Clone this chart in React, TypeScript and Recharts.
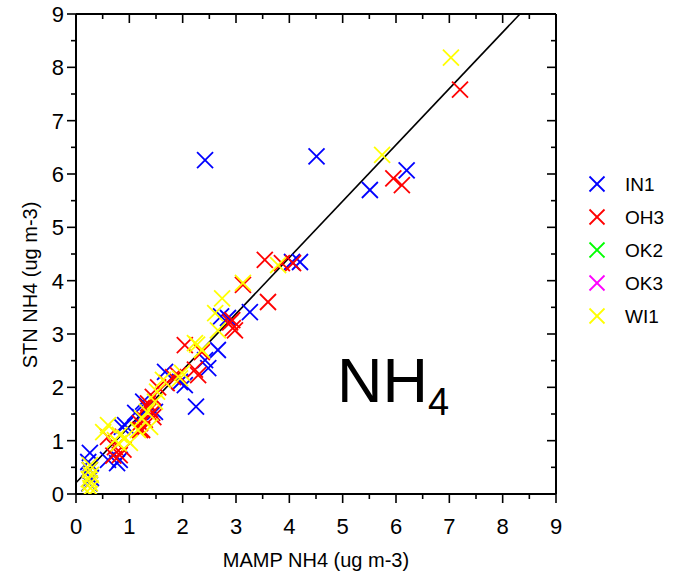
import React from 'react';
import { ScatterChart, Scatter, XAxis, YAxis, ReferenceLine } from 'recharts';

type Pt = { x: number; y: number };

const seriesNames = ['IN1', 'OH3', 'OK2', 'OK3', 'WI1'];
const seriesColors = ['#0000FF', '#FF0000', '#00FF00', '#FF00FF', '#FFFF00'];

const IN1: Pt[] = [
  { x: 2.42, y: 6.26 }, { x: 4.51, y: 6.33 }, { x: 5.51, y: 5.70 }, { x: 6.2, y: 6.07 },
  { x: 4.05, y: 4.35 }, { x: 4.2, y: 4.35 }, { x: 3.26, y: 3.41 }, { x: 2.72, y: 3.33 },
  { x: 2.85, y: 3.3 }, { x: 2.66, y: 2.7 }, { x: 2.42, y: 2.51 }, { x: 2.48, y: 2.36 },
  { x: 2.25, y: 1.64 }, { x: 2.04, y: 2.04 }, { x: 1.95, y: 2.1 }, { x: 1.67, y: 2.29 },
  { x: 1.26, y: 1.73 }, { x: 1.35, y: 1.61 }, { x: 1.48, y: 1.54 }, { x: 1.2, y: 1.44 },
  { x: 1.11, y: 1.52 }, { x: 0.92, y: 1.29 }, { x: 0.86, y: 1.26 }, { x: 0.82, y: 0.64 },
  { x: 0.77, y: 0.58 }, { x: 0.6, y: 0.64 }, { x: 0.26, y: 0.77 }, { x: 0.23, y: 0.6 },
  { x: 0.26, y: 0.45 }, { x: 0.28, y: 0.3 }, { x: 0.25, y: 0.2 },
];

const OH3: Pt[] = [
  { x: 7.2, y: 7.58 }, { x: 5.95, y: 5.92 }, { x: 6.11, y: 5.79 }, { x: 3.54, y: 4.39 },
  { x: 3.86, y: 4.33 }, { x: 4.07, y: 4.33 }, { x: 3.6, y: 3.6 }, { x: 3.13, y: 3.92 },
  { x: 2.93, y: 3.26 }, { x: 2.94, y: 3.11 }, { x: 2.98, y: 3.07 }, { x: 2.89, y: 3.22 },
  { x: 2.04, y: 2.79 }, { x: 2.36, y: 2.66 }, { x: 2.23, y: 2.33 }, { x: 2.29, y: 2.23 },
  { x: 1.91, y: 2.23 }, { x: 1.82, y: 2.19 }, { x: 1.7, y: 2.08 }, { x: 1.54, y: 2.0 },
  { x: 1.44, y: 1.82 }, { x: 1.33, y: 1.64 }, { x: 1.43, y: 1.52 }, { x: 1.2, y: 1.33 },
  { x: 1.2, y: 1.2 }, { x: 1.39, y: 1.58 }, { x: 1.29, y: 1.39 }, { x: 1.45, y: 1.44 },
  { x: 1.24, y: 1.2 }, { x: 1.35, y: 1.7 }, { x: 0.6, y: 1.07 }, { x: 0.73, y: 0.88 },
  { x: 0.82, y: 0.73 }, { x: 0.89, y: 0.83 }, { x: 0.7, y: 0.72 },
];

const OK2: Pt[] = [];
const OK3: Pt[] = [];

const WI1: Pt[] = [
  { x: 7.03, y: 8.18 }, { x: 5.74, y: 6.36 }, { x: 3.79, y: 4.29 }, { x: 3.13, y: 3.96 },
  { x: 2.74, y: 3.67 }, { x: 2.61, y: 3.39 }, { x: 2.66, y: 3.07 }, { x: 2.23, y: 2.83 },
  { x: 2.27, y: 2.8 }, { x: 2.36, y: 2.7 }, { x: 1.99, y: 2.27 }, { x: 1.95, y: 2.17 },
  { x: 1.63, y: 2.14 }, { x: 1.52, y: 1.92 }, { x: 1.48, y: 1.73 }, { x: 1.33, y: 1.54 },
  { x: 1.24, y: 1.42 }, { x: 1.39, y: 1.26 }, { x: 1.16, y: 1.2 }, { x: 0.6, y: 1.29 },
  { x: 0.51, y: 1.16 }, { x: 0.73, y: 1.01 }, { x: 0.82, y: 1.11 }, { x: 0.92, y: 1.05 },
  { x: 1.01, y: 0.96 }, { x: 0.8, y: 0.95 }, { x: 0.26, y: 0.54 }, { x: 0.26, y: 0.45 },
  { x: 0.28, y: 0.36 }, { x: 0.24, y: 0.28 }, { x: 0.26, y: 0.2 }, { x: 0.27, y: 0.11 },
  { x: 0.26, y: 0.0 },
];

const seriesData = [IN1, OH3, OK2, OK3, WI1];

const axisTicks = [0, 0.5, 1, 1.5, 2, 2.5, 3, 3.5, 4, 4.5, 5, 5.5, 6, 6.5, 7, 7.5, 8, 8.5, 9];
const axisDomain: [number, number] = [0, 9];
const frameData: Pt[] = [{ x: 0, y: 0 }, { x: 9, y: 9 }];

const fitIntercept = 0.21;
const fitSlope = 1.056;

const xTitle = 'MAMP NH4 (ug m-3)';
const yTitle = 'STN NH4 (ug m-3)';

const FONT = '"Liberation Sans", Arial, sans-serif';
const MAJOR = 9;
const MINOR = 5;

const isMajor = (v: number) => Number.isInteger(v);

const BottomTick = (props: any) => {
  const { x, y, payload } = props;
  const len = isMajor(payload.value) ? MAJOR : MINOR;
  return (
    <g>
      <line x1={x} x2={x} y1={y} y2={y + len} stroke="#000" strokeWidth={1.6} />
      {isMajor(payload.value) && (
        <text x={x} y={y + 40} textAnchor="middle" fontSize={22} fontFamily={FONT} fill="#000">
          {payload.value}
        </text>
      )}
    </g>
  );
};

const TopTick = (props: any) => {
  const { x, y, payload } = props;
  const len = isMajor(payload.value) ? MAJOR : MINOR;
  return <line x1={x} x2={x} y1={y} y2={y + len} stroke="#000" strokeWidth={1.6} />;
};

const LeftTick = (props: any) => {
  const { x, y, payload } = props;
  const len = isMajor(payload.value) ? MAJOR : MINOR;
  return (
    <g>
      <line x1={x - len} x2={x} y1={y} y2={y} stroke="#000" strokeWidth={1.6} />
      {isMajor(payload.value) && (
        <text x={x - 12} y={y + 8} textAnchor="end" fontSize={22} fontFamily={FONT} fill="#000">
          {payload.value}
        </text>
      )}
    </g>
  );
};

const RightTick = (props: any) => {
  const { x, y, payload } = props;
  const len = isMajor(payload.value) ? MAJOR : MINOR;
  return <line x1={x - len} x2={x} y1={y} y2={y} stroke="#000" strokeWidth={1.6} />;
};

const makeCross = (color: string) => (props: any) => {
  const { cx, cy } = props;
  const h = 8;
  return (
    <g>
      <line x1={cx - h} y1={cy - h} x2={cx + h} y2={cy + h} stroke={color} strokeWidth={1.8} />
      <line x1={cx - h} y1={cy + h} x2={cx + h} y2={cy - h} stroke={color} strokeWidth={1.8} />
    </g>
  );
};

const NoShape = () => <g />;

const XTitle = (props: any) => {
  const vb = props.viewBox || {};
  return (
    <text x={vb.x + vb.width / 2} y={vb.y + 73} textAnchor="middle" fontSize={20} fontFamily={FONT} fill="#000">
      {xTitle}
    </text>
  );
};

const YTitle = (props: any) => {
  const vb = props.viewBox || {};
  const cx = vb.x + 21;
  const cy = vb.y + vb.height / 2 + 31;
  return (
    <text
      x={cx}
      y={cy}
      transform={`rotate(-90, ${cx}, ${cy})`}
      textAnchor="middle"
      fontSize={20}
      fontFamily={FONT}
      fill="#000"
    >
      {yTitle}
    </text>
  );
};

const fitEnd = (axisDomain[1] - fitIntercept) / fitSlope;

export default function App() {
  return (
    <div style={{ position: 'absolute', left: 0, top: 0, width: 674, height: 571, background: '#fff' }}>
      <ScatterChart width={674} height={571} margin={{ top: 13, right: 117, bottom: 17, left: 16 }}>
        <XAxis
          xAxisId="b"
          type="number"
          dataKey="x"
          domain={axisDomain}
          ticks={axisTicks}
          interval={0}
          allowDataOverflow
          height={60}
          tickSize={0}
          tickMargin={0}
          tickLine={false}
          tick={<BottomTick />}
          axisLine={{ stroke: '#000', strokeWidth: 2 }}
          label={{ content: (p: any) => <XTitle {...p} /> }}
        />
        <XAxis
          xAxisId="t"
          orientation="top"
          type="number"
          dataKey="x"
          domain={axisDomain}
          ticks={axisTicks}
          interval={0}
          allowDataOverflow
          height={1}
          tickSize={0}
          tickMargin={0}
          tickLine={false}
          tick={<TopTick />}
          axisLine={{ stroke: '#000', strokeWidth: 2 }}
        />
        <YAxis
          yAxisId="l"
          type="number"
          dataKey="y"
          domain={axisDomain}
          ticks={axisTicks}
          interval={0}
          allowDataOverflow
          width={60}
          tickSize={0}
          tickMargin={0}
          tickLine={false}
          tick={<LeftTick />}
          axisLine={{ stroke: '#000', strokeWidth: 2 }}
          label={{ content: (p: any) => <YTitle {...p} /> }}
        />
        <YAxis
          yAxisId="r"
          orientation="right"
          type="number"
          dataKey="y"
          domain={axisDomain}
          ticks={axisTicks}
          interval={0}
          allowDataOverflow
          width={1}
          tickSize={0}
          tickMargin={0}
          tickLine={false}
          tick={<RightTick />}
          axisLine={{ stroke: '#000', strokeWidth: 2 }}
        />
        <Scatter
          name="frame"
          xAxisId="t"
          yAxisId="r"
          data={frameData}
          shape={<NoShape />}
          legendType="none"
          isAnimationActive={false}
        />
        <ReferenceLine
          xAxisId="b"
          yAxisId="l"
          segment={[
            { x: 0, y: fitIntercept },
            { x: fitEnd, y: axisDomain[1] },
          ]}
          stroke="#000"
          strokeWidth={1.6}
          ifOverflow="visible"
        />
        {seriesData.map((d, i) => (
          <Scatter
            key={seriesNames[i]}
            name={seriesNames[i]}
            xAxisId="b"
            yAxisId="l"
            data={d}
            fill={seriesColors[i]}
            shape={makeCross(seriesColors[i])}
            isAnimationActive={false}
          />
        ))}
      </ScatterChart>
      <svg
        width={674}
        height={571}
        style={{ position: 'absolute', left: 0, top: 0, pointerEvents: 'none' }}
      >
        <text x={337} y={402} fontSize={63} fontFamily={FONT} fill="#000">
          NH
          <tspan fontSize={38} dy={13}>4</tspan>
        </text>
        {seriesNames.map((n, i) => {
          const cy = 184 + i * 33;
          const cx = 597;
          const h = 7.5;
          return (
            <g key={n}>
              <line x1={cx - h} y1={cy - h} x2={cx + h} y2={cy + h} stroke={seriesColors[i]} strokeWidth={1.8} />
              <line x1={cx - h} y1={cy + h} x2={cx + h} y2={cy - h} stroke={seriesColors[i]} strokeWidth={1.8} />
              <text x={625} y={cy + 7} fontSize={19} fontFamily={FONT} fill="#000">
                {n}
              </text>
            </g>
          );
        })}
      </svg>
    </div>
  );
}
